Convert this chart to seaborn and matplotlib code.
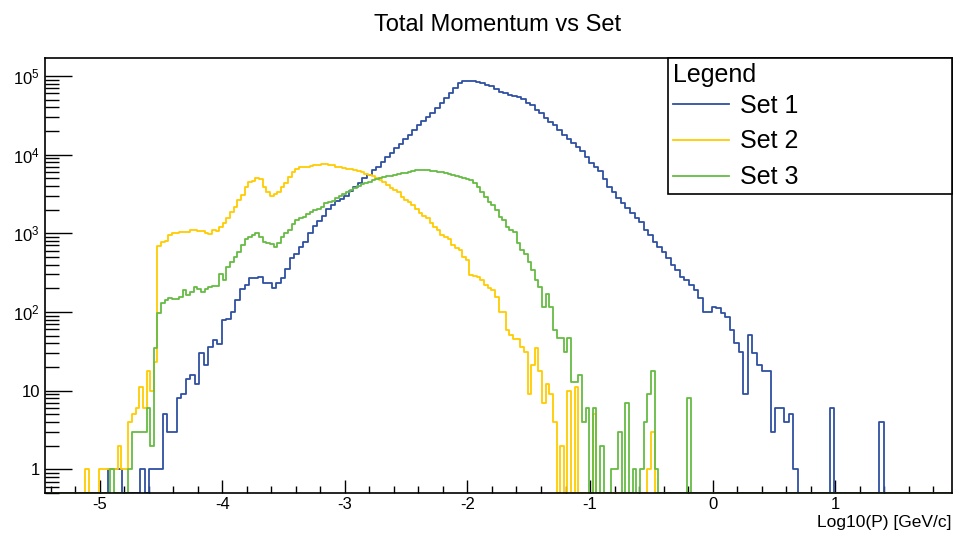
import numpy as np
import pandas as pd
import matplotlib
matplotlib.use("Agg")
import matplotlib.pyplot as plt
import seaborn as sns
from matplotlib.lines import Line2D
from matplotlib.ticker import MultipleLocator, LogLocator, FixedLocator, FuncFormatter, NullFormatter

# === Binning: frame range from Set 1 (200 bins), Sets 2/3 use 250 bins ===
x_lo, x_hi = -5.445, 1.952
n_bins_set1 = 200
n_bins_set23 = 250

# === Bin contents ===
set1_counts = [
    0, 0, 0, 0, 0, 0, 0, 0, 0, 0,
    0, 0, 0, 0, 1, 1, 1, 0, 0, 0,
    0, 1, 0, 1, 1, 1, 5, 3, 3, 8,
    9, 14, 16, 12, 30, 21, 36, 44, 39, 80,
    82, 101, 142, 194, 220, 267, 270, 275, 236, 236,
    203, 232, 274, 350, 480, 553, 664, 786, 1009, 1240,
    1415, 1680, 2008, 2300, 2550, 2750, 3000, 3400, 3910, 4400,
    5000, 5500, 6400, 7000, 8100, 9250, 10400, 12000, 13600, 15700,
    17800, 20600, 23800, 27000, 30300, 33500, 38800, 44900, 52000, 61300,
    69700, 82000, 86000, 87100, 87000, 84000, 80600, 77000, 74000, 69000,
    63000, 60000, 57500, 56000, 53500, 50500, 45700, 43000, 37000, 33500,
    28900, 26000, 23800, 20600, 17800, 16000, 13900, 12400, 11000, 9250,
    7760, 7030, 6200, 4900, 3910, 3380, 2800, 2400, 2100, 1790,
    1550, 1400, 1100, 950, 782, 676, 583, 481, 395, 341,
    281, 255, 220, 190, 149, 101, 101, 115, 113, 96,
    87, 59, 40, 31, 9, 51, 30, 21, 18, 18,
    3, 6, 6, 4, 5, 1, 0, 0, 0, 0,
    0, 0, 0, 6, 0, 0, 0, 0, 0, 0,
    0, 0, 0, 0, 4, 0, 0, 0, 0, 0,
    0, 0, 0, 0, 0, 0, 0, 0, 0, 0,
]

set2_counts = [
    0, 0, 0, 0, 0, 0, 0, 0, 0, 0,
    0, 1, 0, 0, 0, 1, 1, 1, 1, 1,
    2, 1, 1, 4, 5, 6, 11, 6, 18, 10,
    23, 680, 780, 800, 950, 1000, 1018, 1030, 1040, 1050,
    1100, 1100, 1070, 1070, 1018, 970, 1100, 1070, 1213, 1340,
    1550, 1880, 2180, 2650, 3070, 3910, 4530, 4660, 5090, 4900,
    3910, 3380, 3000, 3160, 3380, 3910, 4320, 5250, 6070, 6500,
    6900, 6950, 7030, 7100, 7380, 7400, 7530, 7530, 7450, 7380,
    7030, 6900, 6850, 6600, 6500, 6380, 6200, 6070, 5670, 5500,
    5350, 5000, 4700, 4530, 4110, 3730, 3550, 3380, 2920, 2650,
    2500, 2290, 2020, 1790, 1650, 1550, 1340, 1200, 1100, 950,
    900, 838, 710, 650, 613, 504, 458, 295, 290, 281,
    255, 220, 200, 190, 156, 101, 101, 59, 51, 45,
    45, 36, 31, 9, 21, 35, 18, 7, 12, 9,
    4, 0, 2, 0, 10, 0, 11, 0, 0, 0,
    0, 5, 0, 0, 0, 0, 0, 0, 0, 0,
    0, 0, 0, 0, 0, 0, 1, 3, 0, 0,
    0, 0, 0, 0, 0, 0, 0, 0, 0, 0,
    0, 0, 0, 0, 0, 0, 0, 0, 0, 0,
    0, 0, 0, 0, 0, 0, 0, 0, 0, 0,
    0, 0, 0, 0, 0, 0, 0, 0, 0, 0,
    0, 0, 0, 0, 0, 0, 0, 0, 0, 0,
    0, 0, 0, 0, 0, 0, 0, 0, 0, 0,
    0, 0, 0, 0, 0, 0, 0, 0, 0, 0,
    0, 0, 0, 0, 0, 0, 0, 0, 0, 0,
]

set3_counts = [
    0, 0, 0, 0, 0, 0, 0, 0, 0, 0,
    0, 0, 0, 0, 0, 0, 0, 0, 1, 0,
    0, 0, 0, 1, 3, 3, 3, 3, 6, 2,
    35, 98, 129, 140, 149, 145, 145, 155, 190, 163,
    180, 205, 195, 181, 194, 210, 212, 216, 304, 255,
    376, 435, 504, 583, 710, 838, 900, 950, 1000, 905,
    782, 760, 730, 664, 746, 905, 1000, 1100, 1313, 1476,
    1550, 1625, 1760, 1880, 1950, 2020, 2180, 2400, 2500, 2600,
    2790, 3000, 3200, 3380, 3600, 3800, 4000, 4250, 4400, 4550,
    4700, 4850, 5000, 5150, 5300, 5400, 5500, 5670, 5800, 5900,
    6070, 6200, 6300, 6380, 6380, 6300, 6250, 6200, 6070, 5950,
    5800, 5670, 5450, 5350, 5200, 5000, 4850, 4700, 4320, 3910,
    3380, 2920, 2520, 2300, 1980, 1600, 1480, 1210, 1100, 1050,
    746, 613, 550, 435, 341, 255, 210, 116, 169, 116,
    59, 46, 46, 31, 46, 13, 13, 16, 4, 6,
    0, 6, 0, 2, 0, 0, 1, 1, 3, 0,
    7, 0, 1, 0, 1, 4, 9, 18, 1, 0,
    0, 0, 0, 0, 0, 0, 0, 8, 0, 0,
    0, 0, 0, 0, 0, 0, 0, 0, 0, 0,
    0, 0, 0, 0, 0, 0, 0, 0, 0, 0,
    0, 0, 0, 0, 0, 0, 0, 0, 0, 0,
    0, 0, 0, 0, 0, 0, 0, 0, 0, 0,
    0, 0, 0, 0, 0, 0, 0, 0, 0, 0,
    0, 0, 0, 0, 0, 0, 0, 0, 0, 0,
    0, 0, 0, 0, 0, 0, 0, 0, 0, 0,
]

set_labels = ["Set 1", "Set 2", "Set 3"]
set_colors = ["#2f4fa2", "#ffcc00", "#66bb44"]
set_nbins = [n_bins_set1, n_bins_set23, n_bins_set23]
set_counts = [set1_counts, set2_counts, set3_counts]

y_lo, y_hi = 0.5, 1.69e5

plt.rcParams.update({
    'font.family': 'Liberation Sans',
    'mathtext.fontset': 'custom',
    'mathtext.rm': 'Liberation Sans',
    'mathtext.default': 'regular',
    'axes.unicode_minus': False,
})

fig = plt.figure(figsize=(9.54, 5.34), dpi=100)
ax = fig.add_axes([45 / 954, 41 / 534, 907 / 954, 435 / 534])

for counts, nb, label, color in zip(set_counts, set_nbins, set_labels, set_colors):
    width = (x_hi - x_lo) / nb
    centers = x_lo + width * (np.arange(nb) + 0.5)
    # empty bins sit on the frame floor, like ROOT draws them
    df = pd.DataFrame({"logp": centers,
                       "count": np.maximum(np.asarray(counts, float), y_lo)})
    sns.histplot(data=df, x="logp", weights="count", bins=nb,
                 binrange=(x_lo, x_hi), element="step", fill=False,
                 color=color, linewidth=1.3, ax=ax)

ax.set_yscale("log")
ax.set_xlim(x_lo, x_hi)
ax.set_ylim(y_lo, y_hi)
ax.set_ylabel("")

ax.xaxis.set_major_locator(MultipleLocator(1))
ax.xaxis.set_minor_locator(MultipleLocator(0.2))
ax.yaxis.set_major_locator(FixedLocator([1, 10, 100, 1e3, 1e4, 1e5]))
ax.yaxis.set_minor_locator(LogLocator(base=10, subs=np.arange(2, 10)))
ax.yaxis.set_minor_formatter(NullFormatter())

def ylab(v, pos):
    if v == 1:
        return "1"
    if v == 10:
        return "10"
    return r"$10^{%d}$" % round(np.log10(v))

ax.yaxis.set_major_formatter(FuncFormatter(ylab))
ax.xaxis.set_major_formatter(FuncFormatter(lambda v, p: "%d" % round(v)))

ax.tick_params(axis="x", which="major", direction="in", length=9.4, width=1.0,
               labelsize=12, pad=3)
ax.tick_params(axis="x", which="minor", direction="in", length=5, width=1.0)
ax.tick_params(axis="y", which="major", direction="in", length=19.4, width=1.0,
               labelsize=12, pad=3.6)
ax.tick_params(axis="y", which="minor", direction="in", length=10, width=1.0)
for spine in ax.spines.values():
    spine.set_linewidth(1.2)
    spine.set_color("black")

ax.set_xlabel("Log10(P) [GeV/c]", fontsize=12.5, ha="right")
ax.xaxis.set_label_coords(1.0, -0.05)

fig.text(498 / 954, 1 - 31 / 534, "Total Momentum vs Set", fontsize=17,
         ha="center", va="baseline")

handles = [Line2D([], [], color=c, lw=1.3) for c in set_colors]
leg = ax.legend(handles, set_labels, title="Legend", loc="upper left",
                bbox_to_anchor=(668 / 954, (534 - 194) / 534, 284 / 954, 136 / 534),
                bbox_transform=fig.transFigure, mode="expand", borderaxespad=0,
                fontsize=18, title_fontsize=18, alignment="left",
                handlelength=2.24, handletextpad=0.44, labelspacing=0.47,
                borderpad=0.2, fancybox=False, framealpha=1, edgecolor="black")
leg.get_frame().set_linewidth(1.2)
# tighter gap between the "Legend" title and the first entry
leg._legend_box.sep = 0.27 * 18

fig.savefig("out.png", dpi=100)
